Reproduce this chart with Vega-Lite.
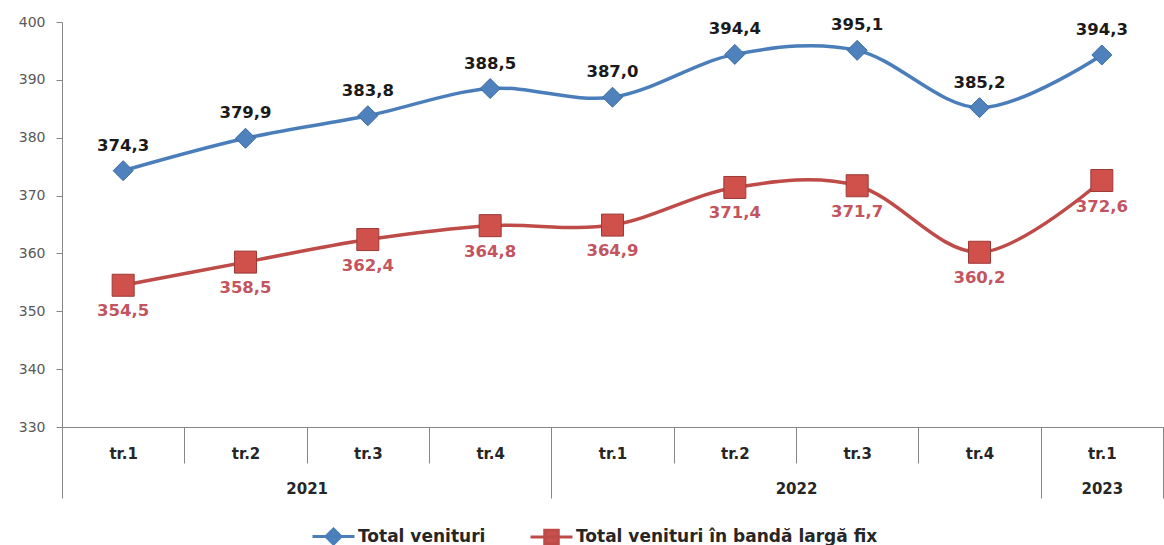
{
  "$schema": "https://vega.github.io/schema/vega-lite/v6.json",
  "width": 1101,
  "height": 405,
  "autosize": {"type": "none"},
  "padding": {"left": 62, "top": 22, "right": 1, "bottom": 118},
  "background": "white",
  "config": {
    "view": {"stroke": null},
    "font": "DejaVu Sans",
    "locale": {"number": {"decimal": ",", "thousands": ".", "grouping": [3], "currency": ["", " lei"]}}
  },
  "data": {
    "values": [
      {"q": "2021 tr.1", "series": "Total venituri", "value": 374.3},
      {"q": "2021 tr.2", "series": "Total venituri", "value": 379.9},
      {"q": "2021 tr.3", "series": "Total venituri", "value": 383.8},
      {"q": "2021 tr.4", "series": "Total venituri", "value": 388.5},
      {"q": "2022 tr.1", "series": "Total venituri", "value": 387.0},
      {"q": "2022 tr.2", "series": "Total venituri", "value": 394.4},
      {"q": "2022 tr.3", "series": "Total venituri", "value": 395.1},
      {"q": "2022 tr.4", "series": "Total venituri", "value": 385.2},
      {"q": "2023 tr.1", "series": "Total venituri", "value": 394.3},
      {"q": "2021 tr.1", "series": "Total venituri în bandă largă fix", "value": 354.5},
      {"q": "2021 tr.2", "series": "Total venituri în bandă largă fix", "value": 358.5},
      {"q": "2021 tr.3", "series": "Total venituri în bandă largă fix", "value": 362.4},
      {"q": "2021 tr.4", "series": "Total venituri în bandă largă fix", "value": 364.8},
      {"q": "2022 tr.1", "series": "Total venituri în bandă largă fix", "value": 364.9},
      {"q": "2022 tr.2", "series": "Total venituri în bandă largă fix", "value": 371.4},
      {"q": "2022 tr.3", "series": "Total venituri în bandă largă fix", "value": 371.7},
      {"q": "2022 tr.4", "series": "Total venituri în bandă largă fix", "value": 360.2},
      {"q": "2023 tr.1", "series": "Total venituri în bandă largă fix", "value": 372.6}
    ]
  },
  "resolve": {"scale": {"x": "independent"}, "axis": {"x": "independent"}},
  "layer": [
    {
      "encoding": {
        "x": {
          "field": "q", "type": "ordinal", "sort": null,
          "scale": {"type": "band", "paddingInner": 0, "paddingOuter": 0},
          "axis": {
            "orient": "bottom", "title": null, "tickBand": "extent", "tickSize": 36,
            "labelPadding": -17, "labelAngle": 0, "labelExpr": "split(datum.value, ' ')[1]",
            "labelFont": "DejaVu Sans", "labelFontWeight": "bold", "labelFontSize": 15, "labelColor": "#262626",
            "domainColor": "#868686", "tickColor": "#868686", "grid": false
          }
        },
        "y": {
          "field": "value", "type": "quantitative",
          "scale": {"domain": [330, 400], "nice": false, "zero": false},
          "axis": {
            "title": null, "values": [330, 340, 350, 360, 370, 380, 390, 400], "grid": false,
            "tickSize": 6, "labelPadding": 11, "format": "d",
            "labelFont": "DejaVu Sans", "labelFontSize": 14, "labelColor": "#595959",
            "domainColor": "#868686", "tickColor": "#868686"
          }
        }
      },
      "layer": [
        {
          "mark": {"type": "line", "interpolate": "cardinal", "strokeWidth": 3.5},
          "encoding": {
            "color": {
              "field": "series", "type": "nominal",
              "scale": {"domain": ["Total venituri", "Total venituri în bandă largă fix"], "range": ["#4a7ebb", "#be4b48"]},
              "legend": {
                "title": null, "orient": "none", "legendX": 255, "legendY": 498, "direction": "horizontal",
                "padding": 0, "symbolSize": 900, "labelOffset": 8, "columnPadding": 38, "labelLimit": 500,
                "labelFont": "DejaVu Sans", "labelFontWeight": "bold", "labelFontSize": 17, "labelColor": "#262626",
                "symbolType": "stroke",
                "encode": {
                  "symbols": {
                    "update": {
                      "shape": {"signal": "datum.value === 'Total venituri' ? 'M-1.4,0H1.4M0,-0.5L0.5,0L0,0.5L-0.5,0Z' : 'M-1.4,0H1.4M-0.45,-0.45H0.45V0.45H-0.45Z'"},
                      "fill": {"signal": "datum.value === 'Total venituri' ? '#4f81bd' : '#c9504c'"},
                      "stroke": {"signal": "datum.value === 'Total venituri' ? '#4a7ebb' : '#be4b48'"},
                      "strokeWidth": {"value": 3},
                      "opacity": {"value": 1}
                    }
                  }
                }
              }
            }
          }
        },
        {
          "transform": [{"filter": "datum.series === 'Total venituri'"}],
          "mark": {"type": "point", "shape": "diamond", "size": 400, "filled": true, "fill": "#4f81bd", "stroke": "#3b6aa0", "strokeWidth": 1, "opacity": 1}
        },
        {
          "transform": [{"filter": "datum.series !== 'Total venituri'"}],
          "mark": {"type": "point", "shape": "square", "size": 484, "filled": true, "fill": "#d0504c", "stroke": "#9b3a37", "strokeWidth": 1, "opacity": 1}
        },
        {
          "transform": [{"filter": "datum.series === 'Total venituri'"}],
          "mark": {"type": "text", "dy": -25, "baseline": "middle", "font": "DejaVu Sans", "fontWeight": "bold", "fontSize": 16.5, "color": "#1a1a1a"},
          "encoding": {"text": {"field": "value", "type": "quantitative", "format": ".1f"}}
        },
        {
          "transform": [{"filter": "datum.series !== 'Total venituri'"}],
          "mark": {"type": "text", "dy": 26, "baseline": "middle", "font": "DejaVu Sans", "fontWeight": "bold", "fontSize": 16.5, "color": "#c25560"},
          "encoding": {"text": {"field": "value", "type": "quantitative", "format": ".1f"}}
        }
      ]
    },
    {
      "data": {"values": [{"b": 0}, {"b": 9}]},
      "mark": {"type": "rule", "opacity": 0},
      "encoding": {
        "x": {
          "field": "b", "type": "quantitative",
          "scale": {"domain": [0, 9], "nice": false, "zero": false},
          "axis": {
            "orient": "bottom", "title": null, "domain": false, "grid": false,
            "values": [0, 2, 4, 6, 8, 8.5, 9], "tickSize": 71, "labelPadding": -17,
            "tickColor": "#868686",
            "tickOpacity": {"condition": {"test": "datum.value === 2 || datum.value === 6 || datum.value === 8.5", "value": 0}, "value": 1},
            "labelExpr": "datum.value === 2 ? '2021' : datum.value === 6 ? '2022' : datum.value === 8.5 ? '2023' : ''",
            "labelFont": "DejaVu Sans", "labelFontWeight": "bold", "labelFontSize": 15, "labelColor": "#262626",
            "labelFlush": false, "labelOverlap": false
          }
        }
      }
    }
  ]
}
